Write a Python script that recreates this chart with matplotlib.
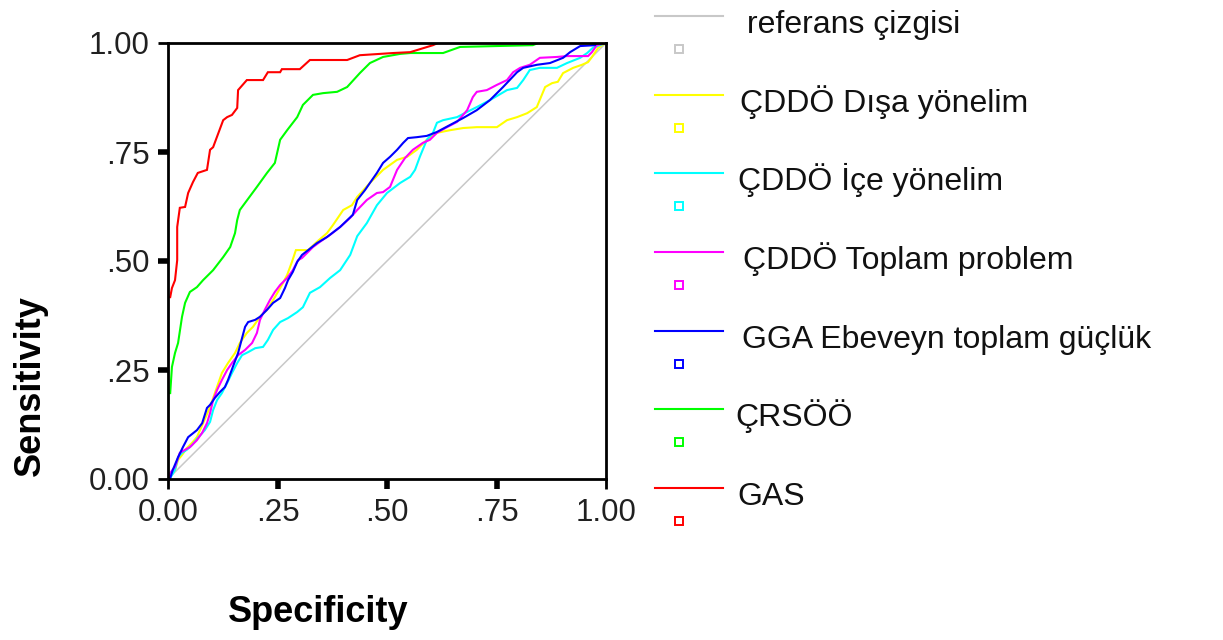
import matplotlib
matplotlib.use("Agg")
import matplotlib.pyplot as plt
from matplotlib.lines import Line2D

plt.rcParams['font.family'] = ['Liberation Sans', 'DejaVu Sans']

# ---------------- data ----------------
series_names = ["referans çizgisi", "ÇDDÖ Dışa yönelim", "ÇDDÖ İçe yönelim",
                "ÇDDÖ Toplam problem", "GGA Ebeveyn toplam güçlük", "ÇRSÖÖ", "GAS"]
series_colors = ["#c8c8c8", "#ffff00", "#00ffff", "#ff00ff", "#0000ff", "#00ff00", "#ff0000"]

ref_x = [0.0, 1.0]
ref_y = [0.0, 1.0]

yellow_x = [0, .005, .016, .023, .032, .043, .055, .066, .080, .096, .107, .123, .137, .153, .164,
            .180, .194, .210, .226, .244, .260, .272, .283, .292, .320, .340, .363, .377, .400, .420,
            .432, .461, .491, .523, .546, .568, .591, .614, .644, .674, .705, .751, .774, .797, .820,
            .842, .861, .877, .890, .902, .925, .945, .959, .968, .982, .991, 1.0]
yellow_y = [0, .005, .021, .044, .055, .071, .083, .096, .128, .165, .197, .243, .266, .289, .312,
            .335, .349, .372, .388, .417, .445, .468, .498, .525, .525, .544, .564, .583, .617, .628,
            .647, .679, .709, .732, .739, .755, .778, .794, .800, .805, .807, .807, .823, .830, .839,
            .853, .899, .908, .911, .931, .943, .950, .956, .968, .989, .995, 1.0]

cyan_x = [0, .005, .016, .023, .032, .043, .055, .068, .084, .096, .103, .112, .123, .135, .146,
          .158, .169, .183, .199, .217, .228, .240, .256, .274, .295, .308, .324, .347, .370, .393,
          .416, .432, .454, .477, .500, .530, .553, .564, .575, .591, .605, .614, .628, .660, .683,
          .705, .735, .774, .797, .811, .826, .849, .888, .911, .941, .957, .970, .986, 1.0]
cyan_y = [0, .002, .021, .050, .060, .067, .078, .094, .112, .131, .158, .181, .197, .220, .243,
          .266, .284, .291, .300, .303, .319, .342, .360, .369, .383, .394, .427, .440, .461, .479,
          .514, .557, .587, .628, .656, .679, .693, .709, .739, .778, .794, .817, .823, .830, .842,
          .853, .869, .892, .897, .915, .938, .943, .943, .954, .966, .977, .989, .995, 1.0]

magenta_x = [0, .005, .016, .027, .039, .050, .066, .078, .089, .096, .103, .112, .123, .135, .146,
             .160, .176, .192, .203, .210, .221, .233, .244, .256, .272, .285, .297, .306, .317, .331,
             .347, .370, .393, .416, .432, .454, .477, .491, .507, .523, .541, .559, .582, .598, .614,
             .637, .660, .683, .696, .705, .728, .751, .774, .788, .804, .826, .849, .888, .911, .959,
             .968, .979, 1.0]
magenta_y = [0, .014, .028, .060, .067, .073, .089, .106, .128, .151, .181, .204, .227, .250, .266,
             .284, .296, .312, .335, .365, .388, .411, .429, .445, .461, .479, .502, .507, .518, .532,
             .544, .560, .578, .599, .617, .640, .656, .658, .670, .709, .736, .755, .771, .778, .794,
             .807, .819, .846, .876, .888, .892, .904, .915, .933, .943, .950, .966, .968, .970, .970,
             .979, .995, 1.0]

blue_x = [0, .005, .011, .023, .034, .046, .066, .078, .089, .096, .107, .119, .130, .137, .148,
          .160, .169, .176, .183, .199, .210, .226, .240, .256, .267, .274, .285, .295, .306, .320,
          .340, .363, .393, .422, .432, .450, .461, .477, .491, .507, .523, .537, .548, .568, .591,
          .614, .644, .674, .705, .735, .765, .797, .811, .842, .872, .902, .918, .941, .975, .979, 1.0]
blue_y = [0, .002, .021, .050, .073, .096, .112, .128, .163, .170, .186, .200, .211, .227, .257,
          .289, .323, .349, .360, .365, .372, .388, .404, .415, .438, .456, .475, .498, .514, .525,
          .541, .555, .578, .606, .640, .663, .679, .702, .725, .739, .755, .771, .782, .784, .787,
          .796, .812, .828, .846, .869, .899, .933, .943, .950, .954, .966, .979, .993, .995, 1.0, 1.0]

green_x = [0, 0, .005, .009, .016, .023, .032, .039, .050, .066, .080, .103, .126, .142, .153, .158,
           .164, .203, .226, .244, .256, .272, .295, .308, .331, .354, .386, .409, .438, .461, .491,
           .530, .553, .628, .667, .833, .845, 1.0]
green_y = [0, .197, .197, .257, .289, .312, .372, .404, .429, .440, .456, .479, .509, .532, .564, .594,
           .617, .670, .702, .725, .778, .800, .830, .858, .881, .885, .888, .899, .931, .954, .968,
           .975, .977, .977, .991, .995, 1.0, 1.0]

red_x = [0, 0, .005, .009, .016, .021, .021, .027, .039, .046, .057, .068, .089, .096, .103, .126,
         .135, .146, .158, .160, .180, .217, .228, .256, .260, .301, .324, .409, .438, .514, .553,
         .605, .616, 1.0]
red_y = [0, .417, .417, .438, .456, .502, .578, .622, .624, .656, .681, .702, .709, .755, .761, .823,
         .830, .835, .851, .892, .915, .915, .933, .933, .940, .940, .961, .961, .972, .977, .979,
         .995, 1.0, 1.0]

xs = [ref_x, yellow_x, cyan_x, magenta_x, blue_x, green_x, red_x]
ys = [ref_y, yellow_y, cyan_y, magenta_y, blue_y, green_y, red_y]

end_ticks = [0.0, 1.0]
end_tick_labels = ["0.00", "1.00"]
mid_ticks = [0.25, 0.50, 0.75]
mid_tick_labels = [".25", ".50", ".75"]

# ---------------- layout ----------------
W, H = 1223, 640
fig = plt.figure(figsize=(W / 100, H / 100), dpi=100)
fig.patch.set_facecolor("white")

ax = fig.add_axes([168 / W, 1 - 479 / H, (606 - 168) / W, (479 - 43) / H])
for i, (x, y) in enumerate(zip(xs, ys)):
    lw = 1.1 if i == 0 else 1.5
    ax.plot(x, y, color=series_colors[i], lw=lw, zorder=2 + i, solid_joinstyle="miter")

ax.set_xlim(0, 1)
ax.set_ylim(0, 1)
for s in ax.spines.values():
    s.set_linewidth(2.0)
    s.set_color("black")
    s.set_zorder(20)

ax.set_xticks(end_ticks)
ax.set_xticklabels(end_tick_labels)
ax.set_yticks(end_ticks)
ax.set_yticklabels(end_tick_labels)
ax.set_xticks(mid_ticks, minor=True)
ax.set_xticklabels(mid_tick_labels, minor=True)
ax.set_yticks(mid_ticks, minor=True)
ax.set_yticklabels(mid_tick_labels, minor=True)

ax.tick_params(axis="both", which="major", length=7, width=2.0, direction="out",
               labelsize=22.5, colors="black")
ax.tick_params(axis="both", which="minor", length=7, width=4.0, direction="out",
               labelsize=22.5, colors="black")
ax.tick_params(axis="x", which="both", pad=7)
ax.tick_params(axis="y", which="both", pad=6)
for lab in ax.get_xticklabels(which="both") + ax.get_yticklabels(which="both"):
    lab.set_color("#202020")

# axis titles
fig.text(318 / W, 1 - 612 / H, "Specificity", fontsize=26, fontweight="bold",
         ha="center", va="center")
fig.text(30 / W, 1 - 386 / H, "Sensitivity", fontsize=26, fontweight="bold",
         rotation=90, ha="center", va="center")

# legend (SPSS style: line row then marker row)
lax = fig.add_axes([0, 0, 1, 1])
lax.set_xlim(0, W)
lax.set_ylim(H, 0)
lax.axis("off")
legend_line_y = [16, 95, 173, 252, 331, 409, 488]
legend_text_x = [747, 740, 738, 743, 742, 735, 737]
for i, name in enumerate(series_names):
    ly = legend_line_y[i]
    lax.add_line(Line2D([655, 723], [ly, ly], color=series_colors[i], lw=1.5))
    lax.plot([679], [ly + 33], marker="s", markersize=6, markerfacecolor="none",
             markeredgecolor=series_colors[i], markeredgewidth=1.4)
    lax.text(legend_text_x[i], ly + 17, name, fontsize=23, ha="left", va="baseline",
             color="#111111")

fig.savefig("out.png", dpi=100, facecolor="white")
